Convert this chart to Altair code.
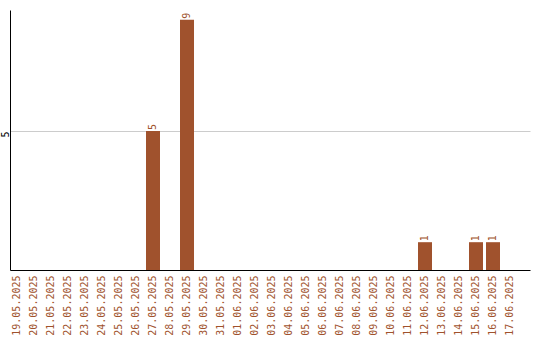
import altair as alt
import pandas as pd

# Daily counts, 19.05.2025 – 17.06.2025
dates = [
    "19.05.2025", "20.05.2025", "21.05.2025", "22.05.2025", "23.05.2025",
    "24.05.2025", "25.05.2025", "26.05.2025", "27.05.2025", "28.05.2025",
    "29.05.2025", "30.05.2025", "31.05.2025", "01.06.2025", "02.06.2025",
    "03.06.2025", "04.06.2025", "05.06.2025", "06.06.2025", "07.06.2025",
    "08.06.2025", "09.06.2025", "10.06.2025", "11.06.2025", "12.06.2025",
    "13.06.2025", "14.06.2025", "15.06.2025", "16.06.2025", "17.06.2025",
]
counts = [
    0, 0, 0, 0, 0,
    0, 0, 0, 5, 0,
    9, 0, 0, 0, 0,
    0, 0, 0, 0, 0,
    0, 0, 0, 0, 1,
    0, 0, 1, 1, 0,
]

BAR = "#A0522D"
FONT = "DejaVu Sans Mono"

df = pd.DataFrame({"date": dates, "count": counts})

x = alt.X(
    "date:N",
    sort=dates,
    title=None,
    scale=alt.Scale(paddingInner=3 / 17, paddingOuter=0.382, align=0),
    axis=alt.Axis(
        labelAngle=-90,
        labelColor=BAR,
        labelFont=FONT,
        labelFontSize=10,
        labelPadding=5,
        ticks=False,
        domainColor="#000000",
        domainWidth=1,
        grid=False,
        labelOverlap=False,
    ),
)
y = alt.Y(
    "count:Q",
    title=None,
    scale=alt.Scale(domain=[0, 9.35], nice=False),
    axis=alt.Axis(
        values=[5],
        labelAngle=-90,
        labelAlign="right",
        labelBaseline="alphabetic",
        labelPadding=2,
        labelFont=FONT,
        labelFontSize=10,
        labelColor="#000000",
        ticks=False,
        domainColor="#000000",
        gridColor="#cccccc",
        gridWidth=1,
    ),
)

bars = alt.Chart(df).mark_bar(color=BAR).encode(x=x, y=y)

labels = (
    alt.Chart(df)
    .transform_filter(alt.datum["count"] > 0)
    .mark_text(
        angle=270,
        align="left",
        baseline="middle",
        dx=1,
        color=BAR,
        font=FONT,
        fontSize=10,
    )
    .encode(x=x, y=y, text="count:Q")
)

chart = (
    alt.layer(bars, labels)
    .properties(
        width=520,
        height=260,
        background="#ffffff",
        autosize=alt.AutoSizeParams(type="none"),
        padding={"left": 10, "top": 10, "right": 10, "bottom": 70},
    )
    .configure_view(strokeWidth=0, stroke="transparent")
)

chart.save("out.html", embed_options={"renderer": "svg", "actions": False})
